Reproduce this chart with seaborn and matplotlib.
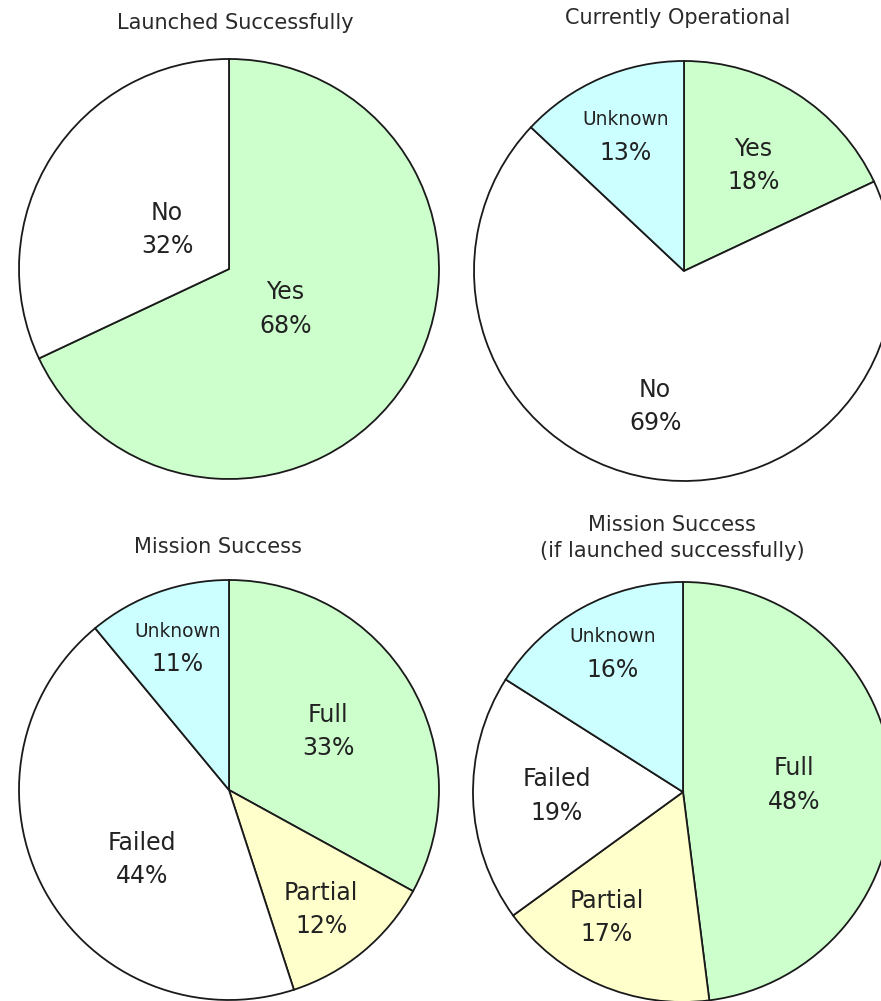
import matplotlib
matplotlib.use("Agg")
import matplotlib.pyplot as plt
import seaborn as sns
import numpy as np

sns.set_theme(style="white")
plt.rcParams['font.family'] = ['DejaVu Sans']

# Data for each pie, listed clockwise from 12 o'clock
launch_labels = ["Yes", "No"]
launch_values = [68, 32]

oper_labels = ["Yes", "No", "Unknown"]
oper_values = [18, 69, 13]

mission_labels = ["Full", "Partial", "Failed", "Unknown"]
mission_values = [33, 12, 44, 11]

mission_ok_labels = ["Full", "Partial", "Failed", "Unknown"]
mission_ok_values = [48, 17, 19, 16]

titles = ["Launched Successfully", "Currently Operational",
          "Mission Success", "Mission Success\n(if launched successfully)"]

colors = {"Yes": "#ccffcc", "Full": "#ccffcc", "No": "#ffffff",
          "Failed": "#ffffff", "Unknown": "#ccffff", "Partial": "#ffffcc"}

W, H = 881, 1001
R = 210          # pie radius in pixels
L = 1.03         # axis half-span in data units

# layout: pie centre (px), label radial fraction per slice, angle nudges (deg)
panels = [
    dict(labels=launch_labels, values=launch_values, center=(229, 269),
         dist=[0.33, 0.35], nudge=[-3, 0],
         title_xy=(235, 23)),
    dict(labels=oper_labels, values=oper_values, center=(684, 271),
         dist=[0.60, 0.66, 0.70], nudge=[-1, -3, 0],
         title_xy=(678, 18)),
    dict(labels=mission_labels, values=mission_values, center=(229, 790),
         dist=[0.55, 0.72, 0.53, 0.72], nudge=[0, -2, 10, 0],
         title_xy=(218, 547)),
    dict(labels=mission_ok_labels, values=mission_ok_values, center=(683, 792),
         dist=[0.53, 0.70, 0.60, 0.74], nudge=[0, -8, 0, -2],
         title_xy=(672, 538)),
]

fig = plt.figure(figsize=(W / 100, H / 100), dpi=100)
fig.patch.set_facecolor("white")

for p, title in zip(panels, titles):
    cx, cy = p["center"]
    ax = fig.add_axes([(cx - R * L) / W, (H - cy - R * L) / H,
                       2 * R * L / W, 2 * R * L / H])

    wedges, _ = ax.pie(p["values"], colors=[colors[l] for l in p["labels"]],
                       startangle=90, counterclock=False, radius=1.0,
                       wedgeprops=dict(edgecolor="#1a1a1a", linewidth=1.3))
    for w in wedges:
        w.set_clip_on(False)
    ax.set_xlim(-L, L)
    ax.set_ylim(-L, L)
    ax.set_aspect("equal")
    ax.axis("off")

    for w, lab, val, d, nd in zip(wedges, p["labels"], p["values"],
                                  p["dist"], p["nudge"]):
        ang = np.deg2rad((w.theta1 + w.theta2) / 2 + nd)
        x, y = d * np.cos(ang), d * np.sin(ang)
        small = lab == "Unknown"
        ax.annotate(lab, (x, y), xytext=(0, 12), textcoords="offset points",
                    ha="center", va="center", color="#222222",
                    fontsize=13.4 if small else 17)
        ax.annotate(f"{val}%", (x, y), xytext=(0, -12),
                    textcoords="offset points", ha="center", va="center",
                    color="#222222", fontsize=17)

    tx, ty = p["title_xy"]
    fig.text(tx / W, 1 - ty / H, title, ha="center", va="center",
             fontsize=15, color="#2a2a2a", linespacing=1.4)

fig.savefig("out.png", dpi=100, facecolor="white")
